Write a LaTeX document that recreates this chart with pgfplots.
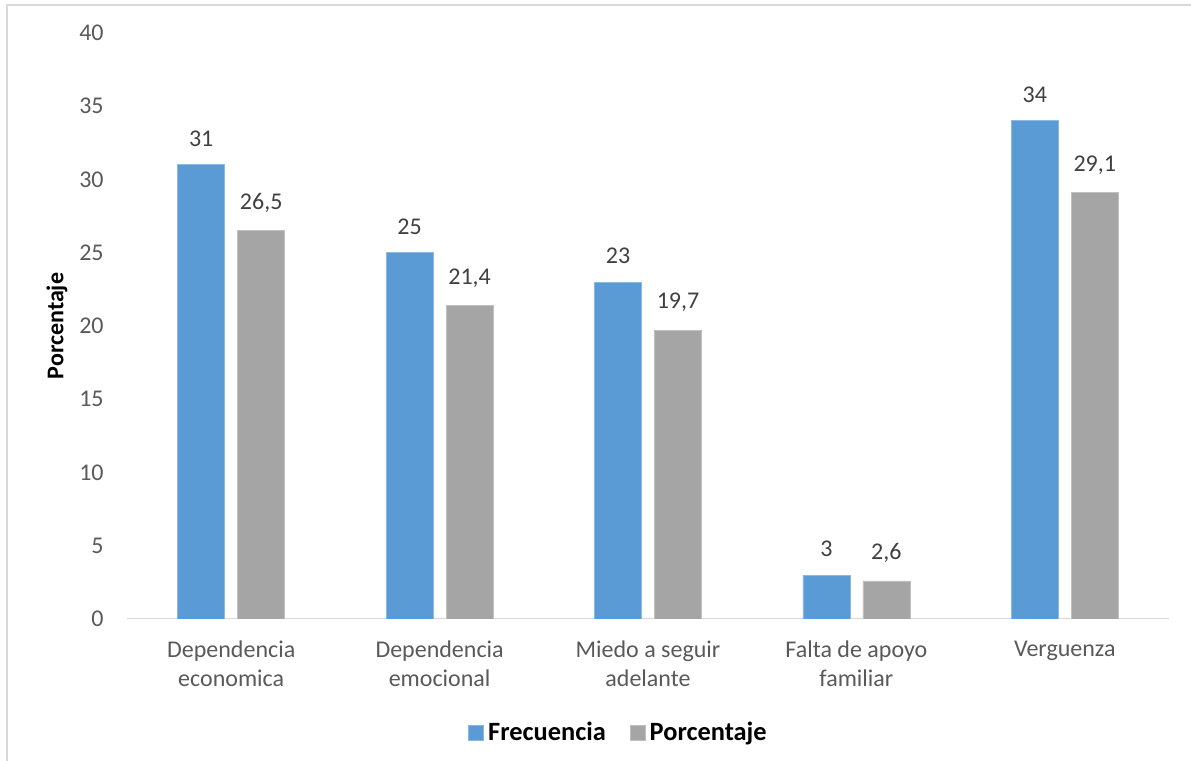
\documentclass[border=0pt]{standalone}
\usepackage{fontspec}
\setmainfont{Carlito}
\usepackage{pgfplots}
\pgfplotsset{compat=1.18}

\definecolor{serieA}{HTML}{5B9BD5}
\definecolor{serieB}{HTML}{A5A5A5}
\definecolor{ticktext}{HTML}{595959}
\definecolor{labeltext}{HTML}{404040}
\definecolor{frameline}{HTML}{D9D9D9}

\begin{document}
\begin{tikzpicture}
% page size and chart frame
\path[use as bounding box] (0,0) rectangle (595.5bp,380.5bp);
\draw[frameline, line width=1bp] (3.5bp,0) -- (3.5bp,378bp) -- (595.5bp,378bp);

\begin{axis}[
  at={(63.5bp,71bp)}, anchor=south west,
  scale only axis, width=521bp, height=293bp,
  /pgf/number format/assume math mode=true,
  /pgf/number format/use comma,
  /pgf/number format/fixed,
  /pgf/number format/precision=1,
  font={\fontsize{12bp}{14.5bp}\selectfont},
  ybar=6.5bp, bar width=23.5bp,
  xmin=-0.5, xmax=4.5, ymin=0, ymax=40,
  ytick={0,5,...,40},
  xtick={0,1,2,3,4},
  xticklabels={Dependencia\\economica, Dependencia\\emocional, Miedo a seguir\\adelante, Falta de apoyo\\familiar, Verguenza},
  xticklabel style={align=center, anchor=north, inner sep=0pt, yshift=-10.7bp, text=ticktext},
  yticklabel style={anchor=east, inner sep=0pt, xshift=-11.5bp, text=ticktext},
  major tick length=0pt,
  axis line style={draw=none},
  ylabel={\textbf{Porcentaje}},
  ylabel style={font={\fontsize{13.2bp}{15bp}\selectfont}, text=black},
  every axis y label/.style={at={(rel axis cs:0,0.5)}, xshift=-35bp, rotate=90, anchor=center},
  nodes near coords,
  every node near coord/.append style={anchor=south, inner sep=0pt, yshift=9bp, text=labeltext, font={\fontsize{12bp}{14.5bp}\selectfont}},
  legend style={at={(0.4727,-0.1945)}, anchor=center, draw=none, fill=none,
    legend columns=2, font={\fontsize{13.2bp}{15bp}\selectfont\bfseries},
    /tikz/every even column/.append style={column sep=10bp}},
  legend image code/.code={\draw[#1] (0bp,-3.75bp) rectangle (7.5bp,3.75bp);},
  legend cell align=left,
]
\draw[frameline, line width=1bp] (axis cs:-0.5,0) -- (axis cs:4.5,0);
\addplot[fill=serieA, draw=serieA!70!white, line width=0.4bp]
  coordinates {(0,31) (1,25) (2,23) (3,3) (4,34)};
\addplot[fill=serieB, draw=serieB!70!white, line width=0.4bp]
  coordinates {(0,26.5) (1,21.4) (2,19.7) (3,2.6) (4,29.1)};
\legend{Frecuencia, Porcentaje}
\end{axis}
\end{tikzpicture}
\end{document}
